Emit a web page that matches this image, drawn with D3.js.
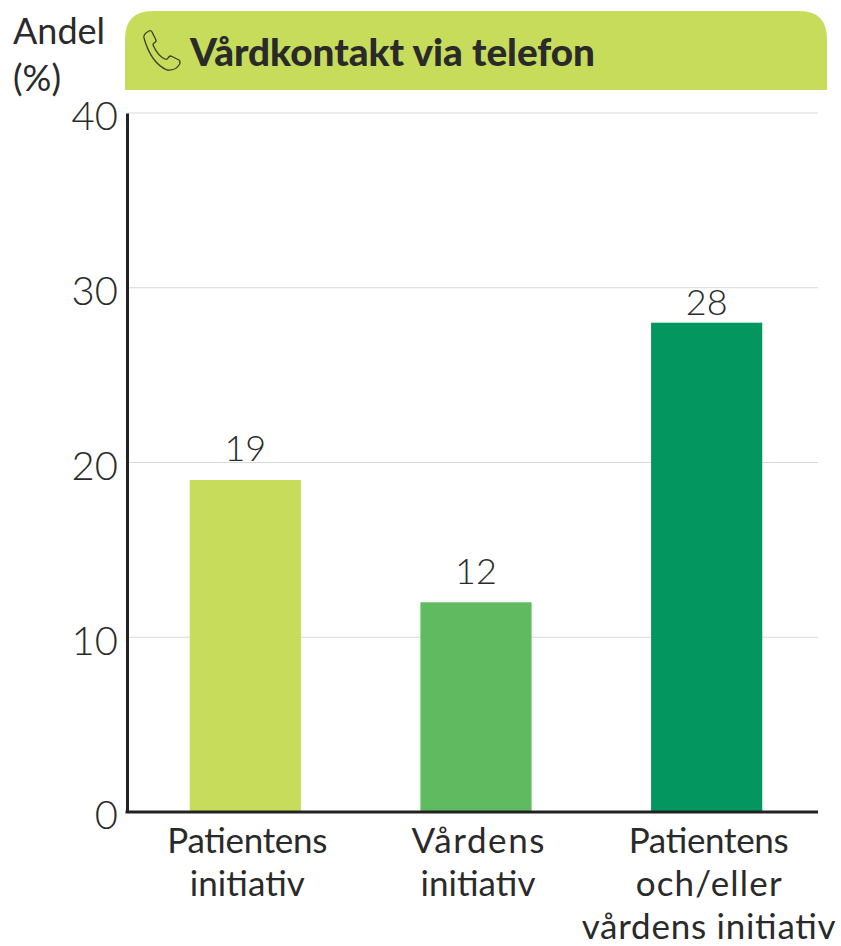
<!DOCTYPE html>
<html lang="sv">
<head>
<meta charset="utf-8">
<script src="https://cdn.jsdelivr.net/npm/d3@7/dist/d3.min.js"></script>
<style>
  html, body { margin: 0; padding: 0; background: #fff; }
  svg { display: block; font-family: "Lato", "Open Sans", sans-serif; }
  text { fill: #2a2a2a; }
</style>
</head>
<body>
<svg id="chart" width="841" height="946"></svg>
<script>
const categories = ["Patientens initiativ", "Vårdens initiativ", "Patientens och/eller vårdens initiativ"];
const categoryLines = [["Patientens", "initiativ"], ["Vårdens", "initiativ"], ["Patientens", "och/eller", "vårdens initiativ"]];
const values = [19, 12, 28];
const barColors = ["#c6dc5a", "#5fba60", "#03965e"];
const yTicks = [0, 10, 20, 30, 40];
const chartTitle = "Vårdkontakt via telefon";
const yTitleLines = ["Andel", "(%)"];

// Layout tuning: gap under each value label and set widths of the category lines
const labelGaps = [19, 18, 8];
const lineWidths = new Map([
  ["Patientens", 160], ["initiativ", 115], ["Vårdens", 133],
  ["och/eller", 146], ["vårdens initiativ", 254]
]);

const svg = d3.select("#chart");
const plot = { left: 127, right: 818, top: 113, bottom: 812 };

const x = d3.scaleBand().domain(categories).range([130, 822]).paddingInner(0.518).paddingOuter(0.259);
const y = d3.scaleLinear().domain([0, 40]).range([plot.bottom, plot.top]);
const color = d3.scaleOrdinal().domain(categories).range(barColors);

// Header band with rounded top corners
const hb = { x0: 125, x1: 827, y0: 11, y1: 90, r: 28 };
svg.append("path")
  .attr("fill", "#c6dc5a")
  .attr("d", `M${hb.x0},${hb.y1}V${hb.y0 + hb.r}Q${hb.x0},${hb.y0} ${hb.x0 + hb.r},${hb.y0}H${hb.x1 - hb.r}Q${hb.x1},${hb.y0} ${hb.x1},${hb.y0 + hb.r}V${hb.y1}Z`);

// Telephone handset outline
svg.append("path")
  .attr("transform", "translate(143,30)")
  .attr("fill", "none")
  .attr("stroke", "#3a3f2a")
  .attr("stroke-width", 1.3)
  .attr("stroke-linejoin", "round")
  .attr("d", "M1,8 Q0,4 6,1 Q8,0 9,2 L13,10 Q13.5,12 11,13 Q9.5,14 10.5,16 Q15,26 22,29 Q24,30 25,28 Q26,26 28,26 L36,30 Q38,32 36,35 Q32,41 24,40 Q8,33 1,8 Z");

svg.append("text")
  .attr("x", 190).attr("y", 66)
  .attr("font-size", 37).attr("font-weight", 900)
  .attr("textLength", 405).attr("lengthAdjust", "spacingAndGlyphs")
  .text(chartTitle);

// Y axis title
svg.selectAll("text.ytitle").data(yTitleLines).join("text")
  .attr("class", "ytitle")
  .attr("x", 13).attr("y", (d, i) => 44 + i * 47)
  .attr("font-size", 36).attr("font-weight", 400)
  .text(d => d);

// Horizontal gridlines
svg.append("g").selectAll("line").data(yTicks.slice(1)).join("line")
  .attr("x1", plot.left).attr("x2", plot.right)
  .attr("y1", d => y(d)).attr("y2", d => y(d))
  .attr("stroke", "#d9d9d9").attr("stroke-width", 1.2);

// Bars
svg.append("g").selectAll("rect").data(categories).join("rect")
  .attr("x", d => x(d))
  .attr("width", x.bandwidth())
  .attr("y", (d, i) => y(values[i]))
  .attr("height", (d, i) => y(0) - y(values[i]))
  .attr("fill", d => color(d));

// Value labels above the bars
svg.append("g").selectAll("text").data(categories).join("text")
  .attr("x", d => x(d) + x.bandwidth() / 2)
  .attr("y", (d, i) => y(values[i]) - labelGaps[i])
  .attr("text-anchor", "middle")
  .attr("font-size", 36).attr("font-weight", 300)
  .text((d, i) => values[i]);

// Y axis: spine plus numeric labels
const yAxis = svg.append("g")
  .attr("transform", `translate(${plot.left},0)`)
  .call(d3.axisLeft(y).tickValues(yTicks).tickSize(0).tickPadding(9));
yAxis.select(".domain").attr("stroke", "#222").attr("stroke-width", 3);
yAxis.selectAll("text")
  .attr("font-family", "Lato, sans-serif")
  .attr("font-size", 40).attr("font-weight", 300)
  .attr("dy", "0.42em").attr("fill", "#2a2a2a");

// X axis: baseline plus multi-line category labels
const xAxis = svg.append("g")
  .attr("transform", `translate(0,${plot.bottom})`)
  .call(d3.axisBottom(x).tickSize(0).tickFormat(""));
xAxis.select(".domain").remove();
svg.append("line")
  .attr("x1", plot.left - 1.5).attr("x2", plot.right)
  .attr("y1", plot.bottom).attr("y2", plot.bottom)
  .attr("stroke", "#222").attr("stroke-width", 3);

const labelGroups = svg.append("g").selectAll("g").data(categories).join("g");
labelGroups.each(function (d, i) {
  d3.select(this).selectAll("text").data(categoryLines[i]).join("text")
    .attr("x", x(d) + x.bandwidth() / 2 + 2)
    .attr("y", (t, j) => 853 + j * 43)
    .attr("text-anchor", "middle")
    .attr("font-size", 35).attr("font-weight", 400)
    .attr("textLength", t => lineWidths.get(t))
    .attr("lengthAdjust", "spacing")
    .text(t => t);
});
</script>
</body>
</html>
